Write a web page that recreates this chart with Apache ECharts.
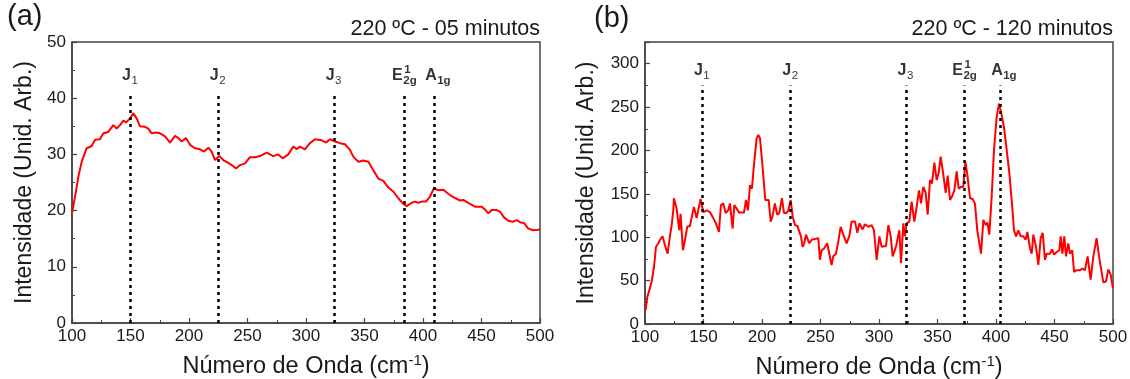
<!DOCTYPE html>
<html>
<head>
<meta charset="utf-8">
<script src="https://cdn.jsdelivr.net/npm/echarts@6/dist/echarts.min.js"></script>
<style>
html,body{margin:0;padding:0;background:#fff;}
#chart{width:1130px;height:379px;}
</style>
</head>
<body>
<div id="chart"></div>
<script>
// ---- data ----
const ramanA = [[100,19.5],[102.6,22.5],[105.4,26],[108.3,28.7],[112.5,31.1],[116.8,31.5],[119.7,32.6],[123.9,32.7],[126.8,33.75],[131,34],[135.3,35.2],[138.2,34.6],[141,35.2],[143.9,36],[146.2,35.7],[149.6,36.4],[152.4,37.3],[155.3,36.4],[158.1,35],[162.4,34.9],[165.2,34.6],[168.1,33.75],[172.4,33.9],[175.2,33.75],[179.5,33.2],[183.8,32.1],[188,33.3],[191,32.9],[193.7,32.3],[197.4,32.9],[200.9,31.7],[205.1,31.1],[209.4,30.9],[212.8,30.5],[216.5,31.2],[219.4,30.5],[222.2,29],[225.9,29.7],[229.3,29],[233.6,28.5],[236.5,28.1],[240.2,27.5],[243.6,28.1],[247.9,28.4],[252.1,29.5],[256.4,29.5],[260.7,29.7],[266.4,30.3],[272,29.7],[276.3,30],[280,29.3],[284.9,30],[289.1,31.4],[292,30.9],[294.9,31.4],[299.1,30.9],[303.4,32],[307.7,32.7],[313.4,32.5],[317.1,32.1],[320.5,32.7],[324.8,32.3],[329.1,32],[333.3,31.8],[337.6,30.8],[340.4,29.6],[344.7,28.7],[349,28.9],[353.3,28.7],[357.5,27.2],[361.8,25.7],[366.1,25.3],[370.4,24.1],[374.6,23.4],[378.9,22.2],[383.2,21.2],[386.1,20.8],[390.3,21.4],[393.2,21.6],[396,21.4],[398.9,21.6],[402.6,21.6],[406,22.5],[409.4,24],[413.1,23.6],[417.4,23.7],[421.6,23],[425.9,22.4],[431.6,21.8],[434.4,21.9],[440.2,21.2],[444.4,20.7],[450.2,20.7],[453,20.2],[455.8,19.5],[458.7,20.1],[463,20.1],[465.8,19.8],[469.2,18.8],[472.9,18.2],[476.6,18],[480,18.3],[483.4,17.9],[486.3,17.8],[490,16.8],[494.3,16.5],[498.6,16.6],[500,16.7]];

const ramanB = [[100.5,16],[102,31.5],[103.7,39],[105.7,49],[107.7,66],[109.4,89],[111.4,93],[112.8,97],[115,101],[117,91],[119.3,81],[121.3,101],[122.8,114],[124.2,131],[124.7,145],[127,133],[128.5,131],[129.3,108],[130.4,127],[131.3,108],[132.4,85],[134.2,97],[136.1,112],[138.4,113],[141.8,135],[144.1,122],[145.8,133],[147.5,144],[149.8,129],[152.7,131],[155.5,129],[158.4,122],[160.6,116],[161.8,116],[163.2,106],[164.9,137],[166.9,139],[168.9,128],[171.2,131],[172.6,139],[174.9,110],[176.3,137],[178.3,133],[180.6,128],[182.6,129],[184.6,128],[186.3,143],[188,131],[189.7,160],[191.4,156],[193.1,183],[195.4,214],[196.8,218],[198.3,214],[200.5,181],[202.8,143],[204.5,141],[205.7,143],[207.4,118],[209,124],[211,139],[213,126],[214.8,128],[217,145],[218.8,128],[221,128],[222.5,131],[224.5,143],[226.2,124],[228.2,114],[230.2,113],[231.9,112],[233.3,101],[234.7,89],[236.1,93],[237.6,103],[239,105],[240.4,93],[242.4,97],[245.3,98],[248.1,99],[249.5,74],[251,85],[253,87],[254.7,86],[255.8,93],[257.5,81],[259.5,68],[260.9,78],[263.2,81],[265.2,95],[267.2,112],[269.5,103],[272.3,93],[274.6,101],[276.6,118],[279.5,118],[281.5,105],[283.2,116],[286,109],[288,115],[290.9,112],[293.7,114],[295.7,108],[298,74],[300.3,101],[302.3,89],[306,90],[308,114],[310,101],[311.7,78],[314.5,89],[317.4,108],[318.8,70],[320.8,116],[322.2,101],[323.6,116],[325.9,118],[327.9,141],[330.2,118],[332.2,135],[334.2,154],[335.9,139],[337.9,158],[339.9,151],[341.6,126],[343.6,166],[345.3,162],[347.3,186],[349.3,166],[351,174],[352.7,193],[355,172],[357,151],[358.7,171],[360.7,143],[362.4,147],[364.4,154],[366.4,176],[368.1,156],[370.1,158],[372,158],[373.8,187],[375.5,172],[377.8,145],[380,144],[382,139],[384,108],[385.7,106],[387.2,81],[389.2,120],[391.2,114],[392.6,117],[394.3,103],[396.3,147],[398.3,201],[400.6,239],[402.6,254],[404.8,241],[406.8,227],[409.1,201],[411.4,174],[413.4,143],[415.4,108],[417.1,101],[419.1,108],[421.1,101],[423.4,101],[425.3,97],[426.8,106],[429.1,87],[430.5,81],[431.9,103],[434.2,89],[436.2,68],[438.2,99],[439.9,105],[441.9,74],[443.3,81],[446.1,81],[447.9,86],[449.6,80],[451.8,83],[454.1,85],[455.3,101],[456.7,81],[458.4,101],[459.8,78],[461.8,93],[463.2,81],[465.2,85],[466.7,60],[468.9,62],[471.8,62],[474.1,64],[476,62],[478.3,78],[480.9,51],[483.2,78],[486,99],[488.3,76],[489.4,78],[491.7,48],[494,49],[496,63],[498,57],[500,41]];

const peaksA = [150, 225, 324, 384, 410];
const peaksB = [149, 224.5, 323, 373, 404];
const peakMain = ['J', 'J', 'J', 'E', 'A'];
const peakSub = ['1', '2', '3', '2g', '1g'];
const peakSup = ['', '', '', '1', ''];
const peakTopA = 41;
const peakTopB = 275;
const titles = ['220 ºC - 05 minutos', '220 ºC - 120 minutos'];
const panelTags = ['(a)', '(b)'];
const xTitle = 'Número de Onda (cm';
const xTitleSup = '-1';
const yTitle = 'Intensidade (Unid. Arb.)';

// ---- chart ----
const F = '"Liberation Sans", Arial, sans-serif';
const AX = '#444';
const TXT = '#1a1a1a';

function xAxisOpt(gi) {
  return {
    type: 'value', gridIndex: gi, min: 100, max: 500, interval: 50,
    axisLine: {show: true, lineStyle: {color: AX, width: 1.5}},
    axisTick: {show: true, inside: true, length: 5, lineStyle: {color: AX, width: 1.2}},
    minorTick: {show: true, splitNumber: 2, length: 3, lineStyle: {color: AX, width: 1}},
    splitLine: {show: false}, minorSplitLine: {show: false},
    axisLabel: {color: TXT, fontSize: 17, margin: 5, fontFamily: F},
    name: '{a|' + xTitle + '}{s|' + xTitleSup + '}{a|)}',
    nameLocation: 'middle', nameGap: 30,
    nameTextStyle: {
      rich: {
        a: {fontSize: 23.5, color: TXT, fontFamily: F, lineHeight: 27},
        s: {fontSize: 15, color: TXT, fontFamily: F, lineHeight: 15, verticalAlign: 'top'}
      }
    }
  };
}
function yAxisOpt(gi, max, interval, gap) {
  return {
    type: 'value', gridIndex: gi, min: 0, max: max, interval: interval,
    axisLine: {show: true, lineStyle: {color: AX, width: 1.5}},
    axisTick: {show: true, inside: true, length: 5, lineStyle: {color: AX, width: 1.2}},
    minorTick: {show: true, splitNumber: 2, length: 3, lineStyle: {color: AX, width: 1}},
    splitLine: {show: false}, minorSplitLine: {show: false},
    axisLabel: {color: TXT, fontSize: 17, margin: 6, fontFamily: F, showMaxLabel: max % interval === 0},
    name: yTitle, nameLocation: 'middle', nameGap: gap,
    nameTextStyle: {fontSize: 23, color: TXT, fontFamily: F}
  };
}
function labelItems(xs, top, dy) {
  const items = [];
  xs.forEach(function (x, i) {
    const m = peakMain[i];
    const dx = m === 'E' ? -1.5 : (m === 'A' ? 2 : 0.5);
    items.push({value: [x, top], label: {show: true, position: 'inside', formatter: m, align: 'right', verticalAlign: 'middle', offset: [dx, dy], fontSize: 16, fontWeight: 'bold', color: '#000', fontFamily: F}});
    if (peakSub[i]) {
      items.push({value: [x, top], label: {show: true, position: 'inside', formatter: peakSub[i], align: 'left', verticalAlign: 'middle', offset: [dx + 0.5, dy + 5], fontSize: 11.5, fontWeight: m === 'J' ? 'normal' : 'bold', color: '#000', fontFamily: F}});
    }
    if (peakSup[i]) {
      items.push({value: [x, top], label: {show: true, position: 'inside', formatter: peakSup[i], align: 'left', verticalAlign: 'middle', offset: [dx + 1.5, dy - 6], fontSize: 11.5, fontWeight: 'bold', color: '#000', fontFamily: F}});
    }
  });
  return items;
}
function curve(data, gi, peaks, top) {
  return {
    type: 'line', xAxisIndex: gi, yAxisIndex: gi, data: data, showSymbol: false, symbol: 'none',
    lineStyle: {color: '#ff0000', width: 2}, z: 3,
    markLine: {
      silent: true, symbol: ['none', 'none'], label: {show: false}, animation: false,
      lineStyle: {color: '#000', width: 2.5, type: [3, 4]},
      emphasis: {disabled: true},
      data: peaks.map(function (x) { return [{coord: [x, 0]}, {coord: [x, top]}]; })
    }
  };
}

const chart = echarts.init(document.getElementById('chart'), null, {renderer: 'canvas'});
chart.setOption({
  animation: false,
  backgroundColor: '#fff',
  grid: [
    {left: 72, top: 42, width: 468, height: 281, show: true, borderColor: AX, borderWidth: 1.5, outerBoundsMode: 'none', containLabel: false},
    {left: 645, top: 42, width: 468, height: 282, show: true, borderColor: AX, borderWidth: 1.5, outerBoundsMode: 'none', containLabel: false}
  ],
  xAxis: [xAxisOpt(0), xAxisOpt(1)],
  yAxis: [yAxisOpt(0, 50, 10, 36), yAxisOpt(1, 325, 50, 47)],
  graphic: [
    {type: 'text', right: 590, top: 18, style: {text: titles[0], fontSize: 21.5, fill: TXT, fontFamily: F}},
    {type: 'text', right: 17, top: 18, style: {text: titles[1], fontSize: 21.5, fill: TXT, fontFamily: F}},
    {type: 'text', left: 7, top: 2, style: {text: panelTags[0], fontSize: 29, fill: TXT, fontFamily: F}},
    {type: 'text', left: 594, top: 4, style: {text: panelTags[1], fontSize: 29, fill: TXT, fontFamily: F}}
  ],
  series: [
    curve(ramanA, 0, peaksA, peakTopA),
    curve(ramanB, 1, peaksB, peakTopB),
    {type: 'scatter', xAxisIndex: 0, yAxisIndex: 0, symbolSize: 0, silent: true, z: 5, data: labelItems(peaksA, peakTopA, -17)},
    {type: 'scatter', xAxisIndex: 1, yAxisIndex: 1, symbolSize: 0, silent: true, z: 5, data: labelItems(peaksB, peakTopB, -15)}
  ]
});
</script>
</body>
</html>
